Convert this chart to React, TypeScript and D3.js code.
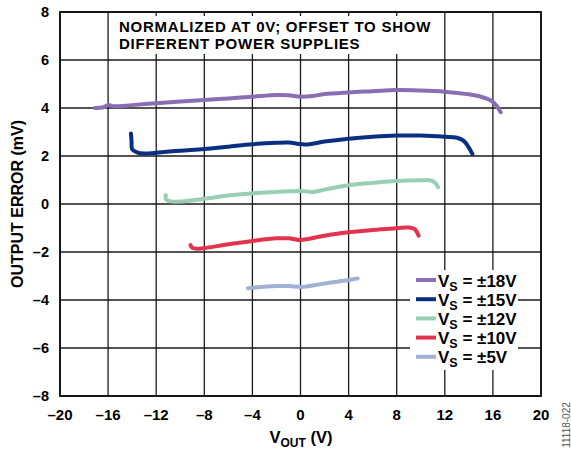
import * as d3 from "d3";

type Pt = [number, number];

// V_OUT (V) vs output error (mV)
const vs18: Pt[] = [
  [-17.1, 4.0], [-16.4, 4.03], [-16.0, 4.12], [-15.5, 4.07], [-14, 4.12], [-12, 4.2],
  [-10, 4.27], [-8, 4.33], [-6, 4.4], [-4, 4.47], [-2, 4.54], [-1, 4.53], [0, 4.47],
  [1, 4.5], [2, 4.58], [4, 4.65], [6, 4.7], [8, 4.75], [10, 4.73], [12, 4.68],
  [13, 4.63], [14, 4.57], [15, 4.47], [15.8, 4.32], [16.3, 4.1], [16.65, 3.82],
];
const vs15: Pt[] = [
  [-14.1, 2.94], [-14.05, 2.6], [-14.0, 2.28], [-13.6, 2.15], [-13, 2.1], [-12, 2.14],
  [-10, 2.22], [-8, 2.29], [-6, 2.39], [-4, 2.49], [-2, 2.55], [-1, 2.56], [0, 2.5],
  [0.6, 2.48], [2, 2.6], [4, 2.72], [6, 2.8], [8, 2.85], [10, 2.85], [12, 2.8],
  [13, 2.76], [13.6, 2.62], [14.0, 2.35], [14.3, 2.08],
];
const vs12: Pt[] = [
  [-11.2, 0.37], [-11.18, 0.18], [-10.8, 0.11], [-10, 0.1], [-8, 0.22], [-6, 0.35],
  [-4, 0.45], [-2, 0.5], [0, 0.54], [1, 0.5], [2, 0.6], [4, 0.78], [6, 0.88],
  [8, 0.96], [10, 0.99], [10.85, 0.98], [11.2, 0.88], [11.45, 0.7],
];
const vs10: Pt[] = [
  [-9.15, -1.71], [-9.0, -1.83], [-8.5, -1.86], [-8, -1.84], [-6, -1.68], [-4, -1.54],
  [-2, -1.43], [-1, -1.43], [0, -1.5], [0.5, -1.47], [2, -1.32], [4, -1.18],
  [6, -1.08], [8, -1.01], [9, -0.98], [9.5, -1.05], [9.82, -1.32],
];
const vs5: Pt[] = [
  [-4.37, -3.51], [-4, -3.49], [-2, -3.42], [-1, -3.42], [0, -3.46], [0.5, -3.44],
  [2, -3.31], [4, -3.17], [4.5, -3.12], [4.76, -3.1],
];

const seriesNames = ["±18V", "±15V", "±12V", "±10V", "±5V"];
const seriesData = [vs18, vs15, vs12, vs10, vs5];
const seriesColors = ["#8a6db5", "#0b2f80", "#98cfb4", "#e2344f", "#a0b1d4"];

const xTicks = [-20, -16, -12, -8, -4, 0, 4, 8, 12, 16, 20];
const yTicks = [-8, -6, -4, -2, 0, 2, 4, 6, 8];

const titleLines = ["NORMALIZED AT 0V; OFFSET TO SHOW", "DIFFERENT POWER SUPPLIES"];

const font = "'Liberation Sans', Arial, sans-serif";
const fmt = (d: number) => (d < 0 ? "–" + Math.abs(d) : String(d));

export default function App() {
  const width = 571;
  const height = 450;
  const m = { left: 60, right: 30, top: 12, bottom: 54 };

  const x = d3.scaleLinear().domain([-20, 20]).range([m.left, width - m.right]);
  const y = d3.scaleLinear().domain([-8, 8]).range([height - m.bottom, m.top]);

  const line = d3
    .line<Pt>()
    .x((d) => x(d[0]))
    .y((d) => y(d[1]))
    .curve(d3.curveCatmullRom.alpha(0.5));

  const legX = 416;
  const legY = 280;
  const legStep = 19.2;

  return (
    <svg
      width={width}
      height={height}
      style={{ position: "absolute", left: 0, top: 0, background: "#fff" }}
      fontFamily={font}
      fontWeight="bold"
    >
      {/* grid */}
      {xTicks.map((t) => (
        <line key={"gx" + t} x1={x(t)} x2={x(t)} y1={y(8)} y2={y(-8)} stroke="#1a1a1a" strokeWidth={1.3} />
      ))}
      {yTicks.map((t) => (
        <line key={"gy" + t} x1={x(-20)} x2={x(20)} y1={y(t)} y2={y(t)} stroke="#1a1a1a" strokeWidth={1.3} />
      ))}

      {/* title box */}
      <rect x={110} y={16} width={333} height={38} fill="#fff" />
      {titleLines.map((s, i) => (
        <text key={s} x={119} y={31.8 + i * 16.8} fontSize={15} letterSpacing={0.75} fill="#000">
          {s}
        </text>
      ))}

      {/* series */}
      {seriesData.map((d, i) => (
        <path key={seriesNames[i]} d={line(d) || ""} fill="none" stroke={seriesColors[i]} strokeWidth={4} strokeLinecap="round" strokeLinejoin="round" />
      ))}

      {/* legend */}
      <rect x={410} y={270} width={108} height={100} fill="#fff" />
      {seriesNames.map((n, i) => (
        <g key={"l" + n}>
          <line x1={legX} x2={legX + 20} y1={legY + i * legStep} y2={legY + i * legStep} stroke={seriesColors[i]} strokeWidth={4} />
          <text x={legX + 22} y={legY + i * legStep + 6.5} fontSize={17} fill="#000">
            V<tspan fontSize={12.5} dy={4}>S</tspan>
            <tspan dy={-4}>{" = " + n}</tspan>
          </text>
        </g>
      ))}

      {/* frame */}
      <rect x={x(-20)} y={y(8)} width={x(20) - x(-20)} height={y(-8) - y(8)} fill="none" stroke="#111" strokeWidth={1.8} />

      {/* ticks */}
      {xTicks.map((t) => (
        <text key={"tx" + t} x={x(t)} y={420} textAnchor="middle" fontSize={15} fill="#000">
          {fmt(t)}
        </text>
      ))}
      {yTicks.map((t) => (
        <text key={"ty" + t} x={49} y={y(t) + 5} textAnchor="end" fontSize={14.5} fill="#000">
          {fmt(t)}
        </text>
      ))}

      {/* axis titles */}
      <text x={301} y={443} textAnchor="middle" fontSize={16.5} fill="#000">
        V<tspan fontSize={12} dy={4}>OUT</tspan>
        <tspan dy={-4}> (V)</tspan>
      </text>
      <text transform={`translate(23,${(y(8) + y(-8)) / 2}) rotate(-90)`} textAnchor="middle" fontSize={16} fill="#000">
        OUTPUT ERROR (mV)
      </text>

      <text transform="translate(570,425) rotate(-90)" textAnchor="middle" fontSize={10} fontWeight="normal" fill="#555">
        11118-022
      </text>
    </svg>
  );
}
